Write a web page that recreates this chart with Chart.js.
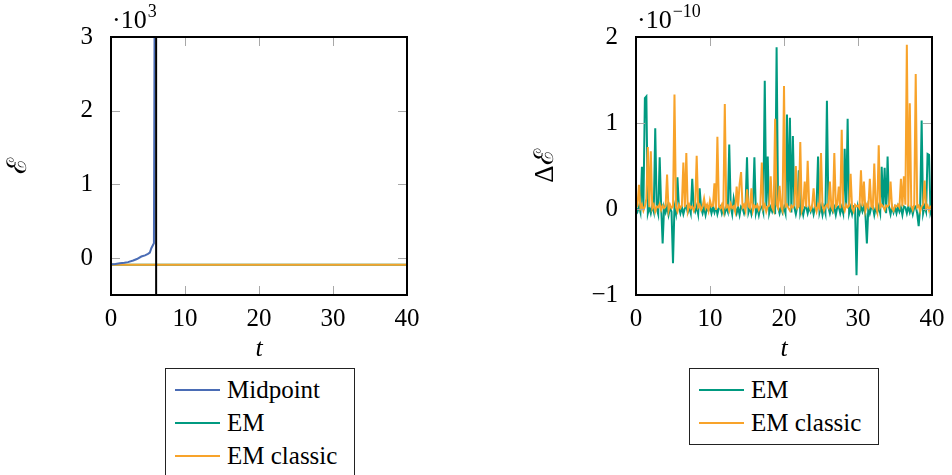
<!DOCTYPE html>
<html>
<head>
<meta charset="utf-8">
<script src="https://cdn.jsdelivr.net/npm/chart.js@4/dist/chart.umd.min.js"></script>
<style>
  body { margin: 0; background: #fff; width: 952px; height: 475px; overflow: hidden; position: relative; font-family: "Liberation Serif", "DejaVu Serif", serif; }
  canvas { position: absolute; top: 0; }
  .legenda { position: absolute; border: 1.5px solid #222; background: #fff; font-size: 25px; color: #000; box-sizing: border-box; }
  .riga { position: absolute; left: 9px; height: 33px; display: flex; align-items: center; white-space: nowrap; }
  .linea { display: inline-block; width: 45px; height: 0; border-top: 2px solid; margin-right: 7px; }
</style>
</head>
<body>
<canvas id="graficoEnergia" width="476" height="475" style="left:0"></canvas>
<canvas id="graficoDifferenza" width="476" height="475" style="left:476px"></canvas>
<div id="legendaEnergia" class="legenda" style="left:165px;top:368px;width:190px;height:120px"></div>
<div id="legendaDifferenza" class="legenda" style="left:689px;top:368px;width:190px;height:77px"></div>
<script>
// grafico di sinistra (energia)
const tempoMidpoint = [0, 0.6, 1.2, 1.8, 2.3, 3.0, 3.5, 4.1, 4.6, 5.0, 5.25, 5.45, 5.8, 5.9];
const valoriMidpoint = [-84, -80, -68, -62, -54, -32, -12, 22, 38, 58, 76, 135, 203, 3600];
const tempoCostante = [0, 10, 20, 30, 40];
const emSinistra = [-90, -90, -90, -90, -90];
const emClassicSinistra = [-90, -90, -90, -90, -90];
const tempoMarcatore = [6.1, 6.1];
const valoriMarcatore = [-500, 3000];
const tickSinistraX = [0, 10, 20, 30, 40];
const tickSinistraY = [0, 1000, 2000, 3000];

// grafico di destra (differenza di energia, x 1e-10)
const passoDestra = 0.2;
const emDestra = [
  0.01, -0.03, 0.03, -0.04, 0.49, 0.02, 1.29, 1.31, -0.05, 0.02,
  -0.05, 0.04, -0.03, 0.94, 0.01, -0.06, 0.60, 0.03, -0.40, 0.02,
  -0.04, 0.03, -0.07, 0.02, -0.03, -0.63, 0.03, -0.05, 0.37, 0.02,
  -0.05, 0.02, -0.06, 0.01, 0.03, -0.04, 0.02, -0.05, 0.35, 0.02,
  -0.03, 0.03, -0.06, 0.24, 0.01, -0.05, 0.02, -0.07, 0.02, -0.02,
  0.03, -0.05, 0.02, -0.04, 0.03, -0.06, 0.01, 0.03, -0.05, 0.02,
  -0.05, 0.02, -0.03, 0.75, 0.03, -0.06, 0.12, 0.02, -0.05, 0.02,
  -0.07, 0.03, 0.01, -0.05, 0.02, 0.60, -0.04, 0.02, -0.06, 0.03,
  0.60, -0.05, 0.02, -0.07, 0.02, 0.03, -0.04, 1.49, 0.03, 0.61,
  -0.05, 0.02, -0.03, 0.03, -0.06, 1.88, 0.02, -0.05, 0.03, -0.04,
  0.02, -0.05, 1.10, 0.03, 1.06, -0.04, 0.85, 0.02, -0.06, 0.03,
  0.45, -0.05, 0.02, -0.07, 0.02, 0.03, -0.05, 0.02, -0.03, 0.03,
  -0.06, 0.02, 0.03, 0.61, -0.04, 0.03, -0.07, 0.02, -0.05, 1.26,
  0.02, -0.05, 0.03, -0.03, 0.02, -0.07, 0.02, 0.03, -0.05, 0.02,
  -0.05, 0.70, 0.02, 1.05, -0.05, 0.02, -0.06, 0.03, 0.02, -0.77,
  0.02, -0.05, 0.03, -0.03, 0.03, -0.06, -0.40, 0.02, -0.05, 0.02,
  0.03, -0.07, 0.02, -0.04, 0.03, -0.05, 0.49, 0.02, 0.48, -0.05,
  0.61, 0.02, -0.06, 0.03, -0.04, 0.02, -0.05, 0.03, -0.03, 0.02,
  -0.07, 0.03, 0.02, -0.05, 0.03, -0.04, 0.02, -0.06, 0.02, 0.03,
  -0.05, -0.20, 0.02, 1.03, -0.05, 0.03, -0.03, 0.64, 0.63, -0.04,
  0.02
];
const emClassicDestra = [
  0.02, 0.04, 0.28, 0.01, 0.05, -0.02, 0.03, 0.12, 0.72, 0.02,
  0.67, 0.01, 0.05, -0.03, 0.03, 0.02, 0.06, -0.01, 0.04, 0.01,
  0.03, 0.40, -0.02, 0.05, 0.01, 0.03, 1.33, 0.02, -0.03, 0.05,
  0.01, 0.04, 0.54, 0.02, 0.65, -0.02, 0.05, 0.01, 0.03, -0.02,
  0.04, 0.62, 0.02, 0.05, -0.01, 0.03, 0.12, 0.01, 0.05, -0.02,
  0.10, 0.03, 0.04, 0.30, -0.01, 0.84, 0.03, 0.01, 0.05, -0.02,
  1.22, 0.02, 0.04, -0.02, 0.06, 0.01, 0.03, -0.03, 0.26, 0.03,
  0.29, 0.43, 0.02, 0.05, -0.02, 0.23, 0.03, 0.01, 0.24, -0.02,
  0.04, 0.02, 0.05, -0.01, 0.03, 0.54, 0.01, 0.05, -0.03, 0.03,
  0.04, 0.38, 0.02, -0.02, 1.05, 0.05, 0.01, 0.27, 0.03, -0.02,
  1.43, 0.03, 0.05, 0.01, -0.02, 0.04, 0.02, 0.05, 0.50, 0.01,
  0.03, 0.78, -0.02, 0.04, 0.32, 0.02, 0.56, 0.05, -0.01, 0.03,
  0.24, 0.03, -0.03, 0.05, 0.01, 0.65, 0.04, -0.02, 0.03, 0.05,
  0.02, 0.32, 0.03, -0.01, 0.65, 0.03, 0.05, 0.26, 0.01, 0.92,
  0.03, -0.02, 0.05, 0.02, 0.04, 0.41, 0.01, -0.03, 0.05, 0.03,
  0.04, 0.01, 0.45, 0.03, 0.32, -0.02, 0.05, 0.02, 0.35, 0.03,
  0.01, 0.53, 0.04, -0.03, 0.74, 0.02, 0.05, 0.03, -0.01, 0.04,
  0.03, 0.05, 0.32, 0.01, -0.02, 0.04, 0.03, 0.05, 0.02, 0.35,
  0.03, 0.38, 0.05, 1.91, 0.03, 1.23, 0.04, -0.01, 0.05, 1.57,
  0.02, 0.04, -0.03, 0.03, 0.05, 0.33, 0.01, 0.04, -0.02, 0.03,
  0.03
];
const tickDestraX = [0, 10, 20, 30, 40];
const tickDestraY = [-1, 0, 1, 2];

const coloreMidpoint = '#4a6cb5';
const coloreEM = '#009a80';
const coloreClassic = '#f8a32a';
const font = '"Liberation Serif", "DejaVu Serif", serif';

function punti(xs, ys)
{
  return ys.map((y, i) => ({x: xs[i], y: y}));
}

function meno(v)
{
  return v < 0 ? '\u2212' + Math.abs(v) : '' + v;
}

// cornice nera, tacche grigie interne ed esponente sopra l'asse
const cornice = {
  id: 'cornice',
  afterDatasetsDraw(chart, args, opz) {
    const ctx = chart.ctx;
    const a = chart.chartArea;
    const sx = chart.scales.x, sy = chart.scales.y;
    ctx.save();
    ctx.strokeStyle = '#a8a8a8';
    ctx.lineWidth = 1;
    ctx.beginPath();
    sx.ticks.forEach(t => {
      const px = Math.round(sx.getPixelForValue(t.value)) + 0.5;
      if (px < a.left + 2 || px > a.right - 2) return;
      ctx.moveTo(px, a.top); ctx.lineTo(px, a.top + 9);
      ctx.moveTo(px, a.bottom); ctx.lineTo(px, a.bottom - 9);
    });
    sy.ticks.forEach(t => {
      const py = Math.round(sy.getPixelForValue(t.value)) + 0.5;
      if (py < a.top + 2 || py > a.bottom - 2) return;
      ctx.moveTo(a.left, py); ctx.lineTo(a.left + 9, py);
      ctx.moveTo(a.right, py); ctx.lineTo(a.right - 9, py);
    });
    ctx.stroke();
    ctx.strokeStyle = '#000';
    ctx.lineWidth = 2;
    ctx.strokeRect(a.left, a.top, a.right - a.left, a.bottom - a.top);
    ctx.fillStyle = '#000';
    ctx.textBaseline = 'alphabetic';
    ctx.font = '26px ' + font;
    const base = '\u00B710';
    ctx.fillText(base, a.left + 1, a.top - 9);
    const w = ctx.measureText(base).width;
    ctx.font = '18px ' + font;
    ctx.fillText(opz.esponente, a.left + 2 + w, a.top - 20);
    ctx.restore();
  }
};

function creaGrafico(id, datasets, tickX, tickY, minY, maxY, etichettaY, padSinistra, padTitoloY, padDestra, esponente, formatoY)
{
  return new Chart(document.getElementById(id), {
    type: 'line',
    data: { datasets: datasets },
    plugins: [cornice],
    options: {
      responsive: false,
      animation: false,
      devicePixelRatio: 1,
      layout: { padding: { top: 37, right: padDestra, left: 0, bottom: 0 } },
      plugins: {
        legend: { display: false },
        tooltip: { enabled: false },
        cornice: { esponente: esponente }
      },
      elements: { point: { radius: 0 }, line: { tension: 0 } },
      scales: {
        x: {
          type: 'linear', min: 0, max: 40,
          afterFit: s => { s.height = 180; },
          afterBuildTicks: s => { s.ticks = tickX.map(v => ({value: v})); },
          grid: { display: false },
          border: { display: false },
          ticks: { color: '#000', font: { family: font, size: 25 }, padding: 1, maxRotation: 0 },
          title: { display: true, text: 't', color: '#000', font: { family: font, size: 26, style: 'italic' }, padding: { top: 0, bottom: 110 } }
        },
        y: {
          type: 'linear', min: minY, max: maxY,
          afterFit: s => { s.width = padSinistra; },
          afterBuildTicks: s => { s.ticks = tickY.map(v => ({value: v})); },
          grid: { display: false },
          border: { display: false },
          ticks: { color: '#000', font: { family: font, size: 25 }, padding: 10, callback: formatoY },
          title: { display: true, text: etichettaY, color: '#000', font: { family: font, size: 27 }, padding: { top: padTitoloY, bottom: 0 } }
        }
      }
    }
  });
}

function creaLegenda(id, voci)
{
  const box = document.getElementById(id);
  voci.forEach((v, i) => {
    const riga = document.createElement('div');
    riga.className = 'riga';
    riga.style.top = (4 + i * 33) + 'px';
    const linea = document.createElement('span');
    linea.className = 'linea';
    linea.style.borderTopColor = v.colore;
    riga.appendChild(linea);
    riga.appendChild(document.createTextNode(v.testo));
    box.appendChild(riga);
  });
}

const tempoDestra = emDestra.map((v, i) => i * passoDestra);

// order: il valore piu' basso viene disegnato sopra
creaGrafico('graficoEnergia', [
  { label: 'Midpoint', data: punti(tempoMidpoint, valoriMidpoint), borderColor: coloreMidpoint, borderWidth: 2, order: 1 },
  { label: 'EM', data: punti(tempoCostante, emSinistra), borderColor: coloreEM, borderWidth: 2, order: 3 },
  { label: 'EM classic', data: punti(tempoCostante, emClassicSinistra), borderColor: coloreClassic, borderWidth: 2, order: 2 },
  { label: 'marcatore', data: punti(tempoMarcatore, valoriMarcatore), borderColor: '#000', borderWidth: 2, order: 0 }
], tickSinistraX, tickSinistraY, -500, 3000, '\u2130', 111, 3, 69, '3', v => v / 1000);

creaGrafico('graficoDifferenza', [
  { label: 'EM', data: punti(tempoDestra, emDestra), borderColor: coloreEM, borderWidth: 2, order: 2 },
  { label: 'EM classic', data: punti(tempoDestra, emClassicDestra), borderColor: coloreClassic, borderWidth: 2, order: 1 }
], tickDestraX, tickDestraY, -1, 2, '\u0394\u2130', 160, 54, 20, '\u221210', meno);

creaLegenda('legendaEnergia', [
  { testo: 'Midpoint', colore: coloreMidpoint },
  { testo: 'EM', colore: coloreEM },
  { testo: 'EM classic', colore: coloreClassic }
]);
creaLegenda('legendaDifferenza', [
  { testo: 'EM', colore: coloreEM },
  { testo: 'EM classic', colore: coloreClassic }
]);
</script>
</body>
</html>
